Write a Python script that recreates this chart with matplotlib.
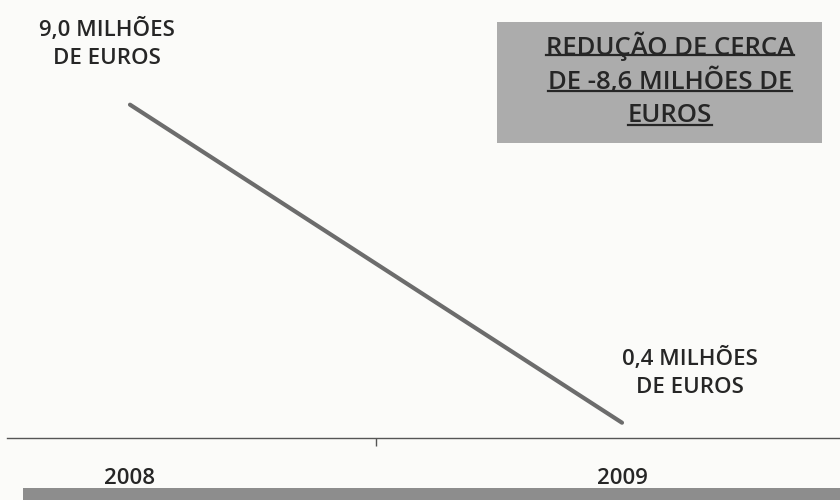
import matplotlib
matplotlib.use("Agg")
import matplotlib.pyplot as plt
from matplotlib.patches import Rectangle
from matplotlib.lines import Line2D

years = ["2008", "2009"]
values = [9.0, 0.4]
value_labels = ["9,0 MILHÕES\nDE EUROS", "0,4 MILHÕES\nDE EUROS"]
box_lines = ["REDUÇÃO DE CERCA", "DE -8,6 MILHÕES DE", "EUROS"]

W, H = 840, 500
fig = plt.figure(figsize=(8.4, 5.0), dpi=100)
fig.patch.set_facecolor("#fbfbf9")
FONT = ["Open Sans", "DejaVu Sans"]
TXT = "#262626"

Y0 = 437.5          # pixel row of value 0
PXY = 36.98         # pixels per unit (y)
PXX = 492.0         # pixels per category (x)
X0 = 130.0          # pixel column of first category
LEFT = 7.0

ax = fig.add_axes([LEFT / W, (H - Y0) / H, (W - LEFT) / W, Y0 / H])
ax.set_facecolor("none")
x = list(range(len(years)))
ax.plot(x, values, color="#6c6c6c", lw=3.0, solid_capstyle="round")
ax.set_xlim(-(X0 - LEFT) / PXX, (W - X0) / PXX)
ax.set_ylim(0, Y0 / PXY)
for s in ["top", "right", "left"]:
    ax.spines[s].set_visible(False)
ax.spines["bottom"].set_color("#555555")
ax.spines["bottom"].set_linewidth(1.0)
ax.set_yticks([])
ax.set_xticks([0.5])
ax.set_xticklabels([""])
ax.tick_params(axis="x", length=6, width=1, color="#555555", direction="out")

# category labels
for i, yr in enumerate(years):
    ax.text(i, -(484 - Y0) / PXY, yr, ha="center", va="baseline", fontsize=16,
            fontweight="semibold", family=FONT, color=TXT, clip_on=False)

# value labels
lab_off = [((107 - X0) / PXX, (105 - 44) / PXY), ((690 - 622) / PXX, (423 - 373) / PXY)]
for i, ((dx, dy), lab) in enumerate(zip(lab_off, value_labels)):
    ax.text(i + dx, values[i] + dy, lab, ha="center", va="center", fontsize=16,
            fontweight="semibold", family=FONT, color=TXT, linespacing=1.42,
            clip_on=False)

# gray box top-right
fig.patches.append(Rectangle((497 / W, 1 - 143 / H), (822 - 497) / W, (143 - 22) / H,
                             transform=fig.transFigure, facecolor="#acacac",
                             edgecolor="none", zorder=0))
line_y = [43, 79, 113]
texts = []
for t, yy in zip(box_lines, line_y):
    tx = fig.text(670 / W, 1 - yy / H, t, ha="center", va="center_baseline",
                  fontsize=18.5, fontweight="semibold", family=FONT, color=TXT)
    texts.append(tx)

# bottom bar
fig.patches.append(Rectangle((23 / W, 0), (W - 23) / W, 12 / H,
                             transform=fig.transFigure, facecolor="#8d8d8d",
                             edgecolor="none", zorder=0))

fig.canvas.draw()
r = fig.canvas.get_renderer()
for tx, yy in zip(texts, line_y):
    bb = tx.get_window_extent(r)
    yline = H - (yy + 12)
    fig.lines.append(Line2D([bb.x0 / W, bb.x1 / W], [yline / H, yline / H],
                            transform=fig.transFigure, color=TXT, lw=1.6))

fig.savefig("out.png", dpi=100, facecolor=fig.get_facecolor())
